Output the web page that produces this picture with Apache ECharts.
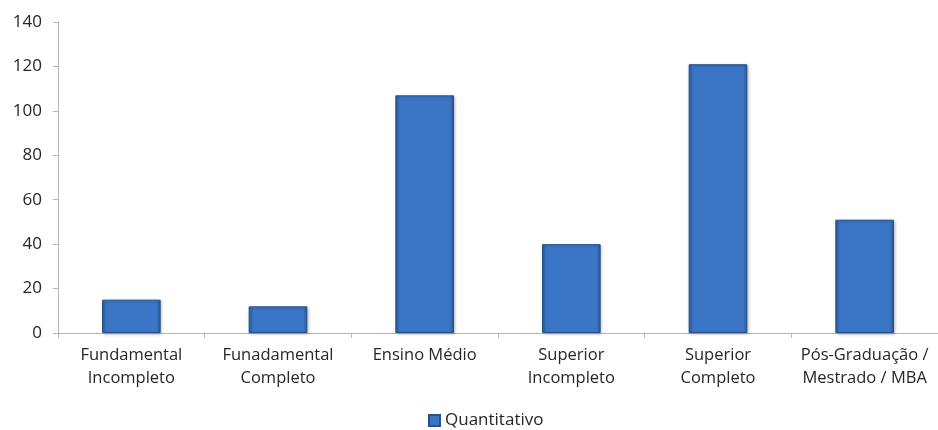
<!DOCTYPE html>
<html>
<head>
<meta charset="utf-8">
<script src="https://cdn.jsdelivr.net/npm/echarts@6/dist/echarts.min.js"></script>
<style>
  html, body { margin: 0; padding: 0; background: #fff; }
  #chart { width: 938px; height: 430px; }
</style>
</head>
<body>
<div id="chart"></div>
<script>
var categorias = [
  'Fundamental\nIncompleto',
  'Funadamental\nCompleto',
  'Ensino Médio',
  'Superior\nIncompleto',
  'Superior\nCompleto',
  'Pós-Graduação /\nMestrado / MBA'
];
var quantitativo = [15, 12, 107, 40, 121, 51];
var nomeSerie = 'Quantitativo';

var dom = document.getElementById('chart');
var myChart = echarts.init(dom);

var barColor = new echarts.graphic.LinearGradient(0, 0, 1, 0, [
  { offset: 0, color: '#2a5a98' },
  { offset: 0.07, color: '#3a76c5' },
  { offset: 0.93, color: '#3a76c5' },
  { offset: 1, color: '#2a5a98' }
]);

var option = {
  animation: false,
  textStyle: { fontFamily: 'Open Sans' },
  grid: { left: 58, right: -8, top: 22, bottom: 97 },
  legend: {
    left: 428,
    top: 412,
    padding: 0,
    itemWidth: 11,
    itemHeight: 11,
    itemGap: 4,
    icon: 'rect',
    textStyle: { fontSize: 17, color: '#262626', fontFamily: 'Open Sans' },
    data: [nomeSerie]
  },
  xAxis: {
    type: 'category',
    data: categorias,
    axisLine: { lineStyle: { color: '#b5b5b5' } },
    axisTick: { show: true, length: 5, lineStyle: { color: '#b5b5b5' } },
    axisLabel: {
      interval: 0,
      margin: 11,
      fontSize: 16.5,
      lineHeight: 23,
      color: '#262626',
      fontFamily: 'Open Sans'
    }
  },
  yAxis: {
    type: 'value',
    min: 0,
    max: 140,
    interval: 20,
    axisLine: { show: true, lineStyle: { color: '#b5b5b5' } },
    axisTick: { show: true, length: 5, lineStyle: { color: '#b5b5b5' } },
    splitLine: { show: false },
    axisLabel: { fontSize: 17, color: '#262626', margin: 16, fontFamily: 'Open Sans' }
  },
  series: [
    {
      name: nomeSerie,
      type: 'bar',
      barWidth: '40%',
      data: quantitativo,
      itemStyle: {
        color: barColor,
        borderColor: '#28508a',
        borderWidth: 1,
        shadowColor: 'rgba(0,0,0,0.25)',
        shadowBlur: 3,
        shadowOffsetX: 1,
        shadowOffsetY: 1
      }
    }
  ]
};

myChart.setOption(option);
</script>
</body>
</html>
